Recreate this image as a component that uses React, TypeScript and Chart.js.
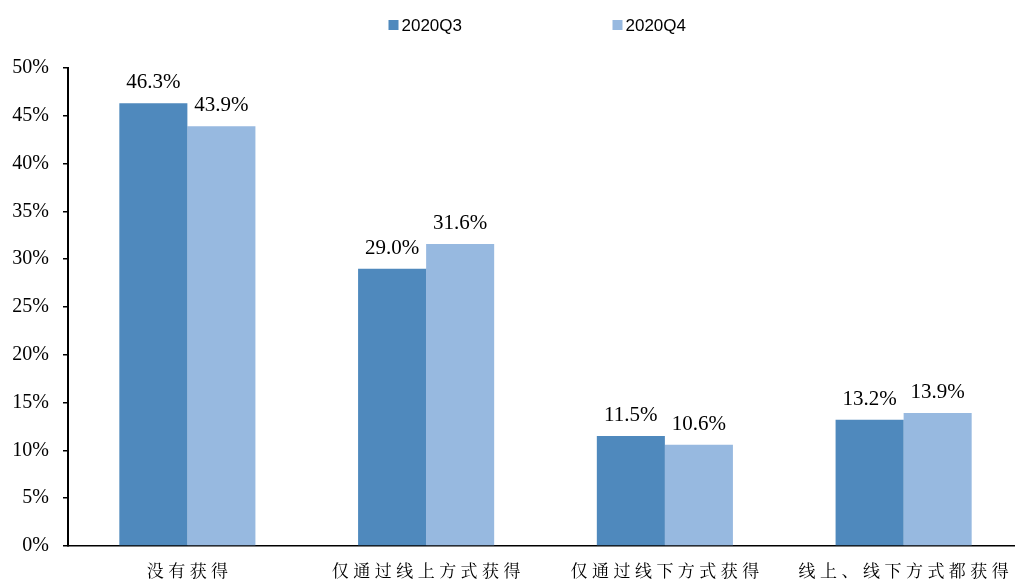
import React, { useEffect, useRef } from "react";
import { Chart, registerables } from "chart.js";

Chart.register(...registerables);

const categories = ["没有获得", "仅通过线上方式获得", "仅通过线下方式获得", "线上、线下方式都获得"];
const seriesNames = ["2020Q3", "2020Q4"];
const q3Values = [46.3, 29.0, 11.5, 13.2];
const q4Values = [43.9, 31.6, 10.6, 13.9];
const seriesColors = ["#4F89BD", "#97B9E0"];

const SERIF = "'Liberation Serif', 'Times New Roman', serif";
const CJK = "'Noto Serif CJK SC', 'Noto Sans CJK SC', sans-serif";
const SANS = "'Liberation Sans', Arial, sans-serif";

const valueLabels = {
  id: "valueLabels",
  afterDatasetsDraw(chart: any) {
    const ctx = chart.ctx;
    ctx.save();
    ctx.font = `21px ${SERIF}`;
    ctx.fillStyle = "#000";
    ctx.textAlign = "center";
    ctx.textBaseline = "alphabetic";
    chart.data.datasets.forEach((ds: any, i: number) => {
      const meta = chart.getDatasetMeta(i);
      meta.data.forEach((bar: any, j: number) => {
        const v = ds.data[j] as number;
        ctx.fillText(v.toFixed(1) + "%", bar.x, bar.y - 15);
      });
    });
    ctx.restore();
  },
};

const xLabels = {
  id: "xLabels",
  afterDraw(chart: any) {
    const ctx = chart.ctx;
    const scale = chart.scales.x;
    const spacing = 4.5;
    ctx.save();
    ctx.font = `17px ${CJK}`;
    (ctx as any).letterSpacing = spacing + "px";
    ctx.fillStyle = "#000";
    ctx.textAlign = "left";
    ctx.textBaseline = "middle";
    categories.forEach((label, i) => {
      const x = scale.getPixelForTick(i);
      const w = ctx.measureText(label).width - spacing;
      ctx.fillText(label, x - w / 2, chart.chartArea.bottom + 25);
    });
    ctx.restore();
  },
};

const topLegend = {
  id: "topLegend",
  afterDraw(chart: any) {
    const ctx = chart.ctx;
    const center = (chart.chartArea.left + chart.chartArea.right) / 2;
    const start = center - 157;
    const step = 224;
    ctx.save();
    ctx.font = `17px ${SANS}`;
    ctx.textBaseline = "middle";
    ctx.textAlign = "left";
    chart.data.datasets.forEach((ds: any, i: number) => {
      const x = start + i * step;
      const y = 25;
      ctx.fillStyle = ds.backgroundColor;
      ctx.fillRect(x, y - 5, 10, 10);
      ctx.fillStyle = "#000";
      ctx.fillText(ds.label, x + 13, y + 1);
    });
    ctx.restore();
  },
};

export default function App() {
  const ref = useRef<HTMLCanvasElement | null>(null);

  useEffect(() => {
    if (!ref.current) return;
    const chart = new Chart(ref.current, {
      type: "bar",
      data: {
        labels: categories,
        datasets: [
          {
            label: seriesNames[0],
            data: q3Values,
            backgroundColor: seriesColors[0],
            barPercentage: 1,
            categoryPercentage: 0.57,
          },
          {
            label: seriesNames[1],
            data: q4Values,
            backgroundColor: seriesColors[1],
            barPercentage: 1,
            categoryPercentage: 0.57,
          },
        ],
      },
      options: {
        animation: false,
        responsive: false,
        maintainAspectRatio: false,
        layout: { padding: { top: 68, right: 1, left: 0, bottom: 0 } },
        plugins: {
          legend: { display: false },
          tooltip: { enabled: false },
        },
        scales: {
          x: {
            grid: { display: false },
            border: { display: true, color: "#000", width: 1.5 },
            ticks: { display: false },
            afterFit: (s: any) => {
              s.height = 34;
            },
          },
          y: {
            min: 0,
            max: 50,
            ticks: {
              stepSize: 5,
              callback: (v: any) => v + "%",
              color: "#000",
              font: { family: SERIF, size: 20 },
              padding: 14,
            },
            grid: {
              display: true,
              drawOnChartArea: false,
              drawTicks: true,
              tickLength: 5,
              color: "#000",
              lineWidth: 1.5,
            },
            border: { display: true, color: "#000", width: 2 },
            afterFit: (s: any) => {
              s.width = 68;
            },
          },
        },
      },
      plugins: [valueLabels, xLabels, topLegend],
    });
    return () => chart.destroy();
  }, []);

  return (
    <div style={{ position: "fixed", left: 0, top: 0, width: 1015, height: 580, overflow: "hidden", background: "#fff" }}>
      <canvas ref={ref} width={1024} height={580} style={{ width: 1024, height: 580, display: "block" }} />
    </div>
  );
}
